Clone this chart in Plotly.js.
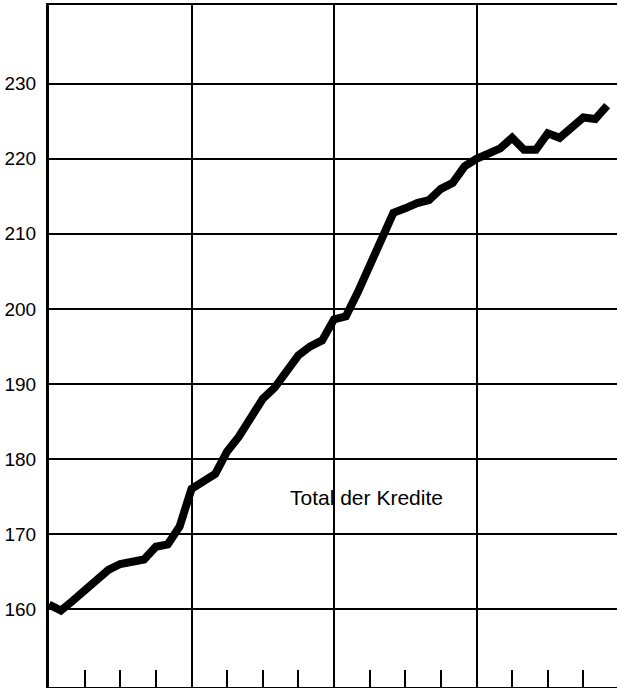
<!DOCTYPE html>
<html>
<head>
<meta charset="utf-8">
<script src="https://cdn.plot.ly/plotly-3.0.1.min.js"></script>
<style>html,body{margin:0;padding:0;background:#fff;overflow:hidden;}#chart{width:619px;height:688px;}</style>
</head>
<body>
<div id="chart"></div>
<script>
// Month index (4 years, monthly)
const months = [0,1,2,3,4,5,6,7,8,9,10,11,12,13,14,15,16,17,18,19,20,21,22,23,24,25,26,27,28,29,30,31,32,33,34,35,36,37,38,39,40,41,42,43,44,45,46,47];
// Total der Kredite
const credits = [160.6,159.8,161.1,162.5,163.8,165.2,166.0,166.3,166.6,168.3,168.6,171.0,
                 176.0,177.0,178.0,181.0,183.0,185.5,188.0,189.5,191.5,193.8,195.0,195.8,
                 198.6,199.0,202.2,205.6,209.2,212.8,213.4,214.1,214.5,216.0,216.8,219.0,
                 220.0,220.6,221.4,222.8,221.2,221.2,223.4,222.8,224.2,225.5,225.3,227.1];
const yTicks = [160,170,180,190,200,210,220,230];
const yTickLabels = ["160","170","180","190","200","210","220","230"];
const seriesLabel = "Total der Kredite";

const trace = {
  x: months, y: credits, type: 'scatter', mode: 'lines',
  line: {color: '#000', width: 8, shape: 'linear'},
  hoverinfo: 'skip'
};

const layout = {
  width: 619, height: 688,
  margin: {l: 49, r: 0, t: 5, b: 1, pad: 0},
  paper_bgcolor: '#fff', plot_bgcolor: '#fff',
  showlegend: false,
  font: {family: 'Liberation Sans, Arial, sans-serif', color: '#000'},
  xaxis: {
    range: [0, 48], showgrid: true, gridcolor: '#000', gridwidth: 2,
    tick0: 0, dtick: 12, ticks: '', showticklabels: false,
    zeroline: false, showline: true, linecolor: '#000', linewidth: 2.5, mirror: true,
    minor: {dtick: 3, tick0: 0, ticks: 'inside', ticklen: 17, tickwidth: 2, tickcolor: '#000', showgrid: false},
    fixedrange: true
  },
  yaxis: {
    range: [149.6, 240.5], tickmode: 'array', tickvals: yTicks, ticktext: yTickLabels,
    showgrid: true, gridcolor: '#000', gridwidth: 2, ticks: '',
    ticklabelstandoff: 6,
    tickfont: {size: 19, family: 'Liberation Sans, Arial, sans-serif', color: '#000'},
    zeroline: false, showline: true, linecolor: '#000', linewidth: 3,
    fixedrange: true
  },
  annotations: [{
    text: seriesLabel, xref: 'x', yref: 'y', x: 26.7, y: 174.8,
    showarrow: false, font: {size: 21, family: 'Liberation Sans, Arial, sans-serif', color: '#000'},
    xanchor: 'center', yanchor: 'middle'
  }]
};

Plotly.newPlot('chart', [trace], layout, {displayModeBar: false, staticPlot: true});
</script>
</body>
</html>
